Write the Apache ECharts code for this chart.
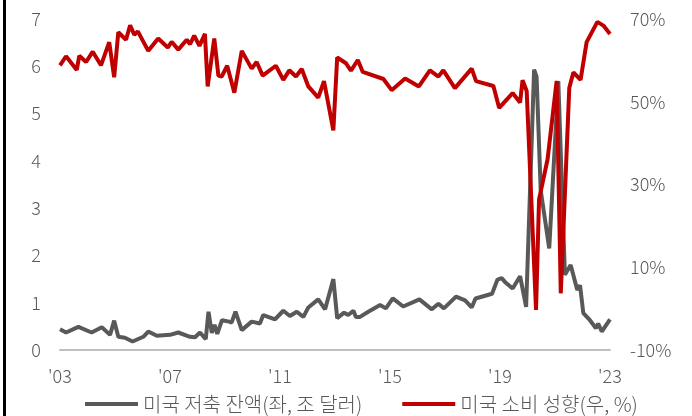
<!DOCTYPE html>
<html>
<head>
<meta charset="utf-8">
<script src="https://cdn.jsdelivr.net/npm/echarts@6/dist/echarts.min.js"></script>
<style>
  html, body { margin: 0; padding: 0; background: #fff; }
  #chart { width: 692px; height: 416px; }
</style>
</head>
<body>
<div id="chart"></div>
<script>
// 미국 저축 잔액 (좌, 조 달러)
var savingsDates = [2003.0, 2003.22, 2003.67, 2004.15, 2004.52, 2004.82, 2004.97, 2005.12, 2005.36, 2005.64,
  2006.03, 2006.21, 2006.52, 2007.0, 2007.3, 2007.73, 2007.91, 2008.09, 2008.3, 2008.4,
  2008.52, 2008.62, 2008.72, 2008.89, 2009.15, 2009.24, 2009.38, 2009.61, 2009.97, 2010.27,
  2010.39, 2010.82, 2011.12, 2011.36, 2011.61, 2011.85, 2012.03, 2012.39, 2012.64, 2012.94,
  2013.08, 2013.33, 2013.48, 2013.67, 2013.76, 2013.91, 2014.21, 2014.64, 2014.85, 2015.1,
  2015.48, 2016.07, 2016.52, 2016.76, 2016.96, 2017.4, 2017.73, 2017.97, 2018.11, 2018.71,
  2018.91, 2019.06, 2019.18, 2019.46, 2019.73, 2019.95, 2020.24, 2020.33, 2020.48, 2020.79,
  2021.12, 2021.36, 2021.57, 2021.81, 2021.91, 2022.03, 2022.27, 2022.49, 2022.57, 2022.7, 2023.0];
var savingsValues = [0.44, 0.37, 0.49, 0.37, 0.48, 0.32, 0.62, 0.28, 0.26, 0.18,
  0.28, 0.39, 0.30, 0.32, 0.37, 0.28, 0.27, 0.37, 0.23, 0.81,
  0.36, 0.53, 0.34, 0.63, 0.60, 0.58, 0.81, 0.42, 0.60, 0.56,
  0.74, 0.65, 0.83, 0.72, 0.81, 0.70, 0.90, 1.07, 0.86, 1.50,
  0.67, 0.79, 0.74, 0.83, 0.70, 0.70, 0.81, 0.95, 0.88, 1.09,
  0.92, 1.07, 0.86, 0.98, 0.88, 1.13, 1.05, 0.90, 1.09, 1.19,
  1.49, 1.52, 1.44, 1.30, 1.56, 0.91, 5.93, 5.78, 3.38, 2.15,
  5.69, 1.59, 1.80, 1.27, 1.37, 0.78, 0.63, 0.46, 0.56, 0.39, 0.65];

// 미국 소비 성향 (우, %)
var spendDates = [2003.0, 2003.22, 2003.61, 2003.7, 2003.95, 2004.19, 2004.49, 2004.79, 2004.97, 2005.12,
  2005.4, 2005.55, 2005.7, 2005.83, 2006.21, 2006.57, 2006.92, 2007.06, 2007.3, 2007.61,
  2007.73, 2007.88, 2008.07, 2008.27, 2008.37, 2008.61, 2008.76, 2008.88, 2009.08, 2009.34,
  2009.61, 2009.97, 2010.15, 2010.37, 2010.85, 2011.12, 2011.34, 2011.58, 2011.79, 2012.03,
  2012.39, 2012.6, 2012.94, 2013.08, 2013.4, 2013.58, 2013.83, 2014.01, 2014.76, 2015.06,
  2015.55, 2016.05, 2016.45, 2016.76, 2016.94, 2017.36, 2017.97, 2018.13, 2018.76, 2018.97,
  2019.46, 2019.73, 2019.82, 2019.97, 2020.31, 2020.42, 2020.73, 2021.06, 2021.21, 2021.52,
  2021.67, 2021.93, 2022.15, 2022.54, 2022.76, 2023.0];
var spendValues = [58.8, 61.0, 57.7, 61.1, 59.6, 62.1, 58.8, 64.4, 55.9, 66.8,
  65.0, 68.5, 66.2, 67.0, 62.3, 65.3, 63.1, 64.5, 62.6, 65.0,
  63.9, 66.0, 63.5, 66.4, 53.7, 65.3, 56.3, 56.1, 58.7, 52.2,
  62.3, 58.0, 59.6, 56.3, 58.7, 55.3, 57.6, 56.1, 57.9, 53.7,
  51.0, 55.0, 43.1, 60.7, 59.3, 57.5, 60.1, 57.2, 55.5, 52.8,
  55.6, 53.7, 57.6, 56.1, 57.6, 53.3, 58.0, 55.0, 53.8, 48.5,
  52.1, 49.8, 55.2, 52.6, -0.3, 26.4, 36.1, 55.0, 3.7, 53.4,
  57.1, 55.3, 64.4, 69.3, 68.4, 66.4];

var seriesNames = ['미국 저축 잔액(좌, 조 달러)', '미국 소비 성향(우, %)'];
var seriesColors = ['#595959', '#C00000'];

function toPairs(xs, ys) {
  var out = [];
  for (var i = 0; i < xs.length; i++) {
    out.push([xs[i], ys[i]]);
  }
  return out;
}

var font = '"Noto Sans CJK KR", "Noto Sans", sans-serif';
var labelColor = '#595959';

var chart = echarts.init(document.getElementById('chart'));
var option = {
  backgroundColor: '#fff',
  animation: false,
  textStyle: { fontFamily: font },
  grid: { left: 60, right: 82, top: 19, bottom: 66 },
  legend: {
    left: 80,
    top: 389,
    itemWidth: 53,
    itemHeight: 4,
    itemGap: 40,
    icon: 'rect',
    textStyle: { fontFamily: font, fontSize: 20, fontWeight: 300, color: labelColor },
    data: seriesNames
  },
  xAxis: {
    type: 'value',
    min: 2003,
    max: 2023,
    interval: 4,
    axisLine: { show: true, onZero: false, lineStyle: { color: '#BFBFBF', width: 2 } },
    axisTick: { show: false },
    splitLine: { show: false },
    axisLabel: {
      color: labelColor,
      fontSize: 18,
      fontWeight: 300,
      margin: 17,
      formatter: function (v) { return "'" + String(v).slice(2); }
    }
  },
  yAxis: [
    {
      type: 'value',
      min: 0,
      max: 7,
      interval: 1,
      axisLine: { show: false },
      axisTick: { show: false },
      splitLine: { show: false },
      axisLabel: { color: labelColor, fontSize: 18, fontWeight: 300, margin: 19 }
    },
    {
      type: 'value',
      min: -10,
      max: 70,
      interval: 20,
      position: 'right',
      axisLine: { show: false },
      axisTick: { show: false },
      splitLine: { show: false },
      axisLabel: { color: labelColor, fontSize: 18, fontWeight: 300, margin: 20, formatter: '{value}%' }
    }
  ],
  series: [
    {
      name: seriesNames[0],
      type: 'line',
      yAxisIndex: 0,
      data: toPairs(savingsDates, savingsValues),
      showSymbol: false,
      color: seriesColors[0],
      lineStyle: { width: 4, color: seriesColors[0] }
    },
    {
      name: seriesNames[1],
      type: 'line',
      yAxisIndex: 1,
      data: toPairs(spendDates, spendValues),
      showSymbol: false,
      color: seriesColors[1],
      lineStyle: { width: 4, color: seriesColors[1] }
    }
  ],
  graphic: [
    { type: 'rect', left: 3, top: 0, shape: { width: 3, height: 416 }, style: { fill: '#000' } }
  ]
};
chart.setOption(option);
</script>
</body>
</html>
